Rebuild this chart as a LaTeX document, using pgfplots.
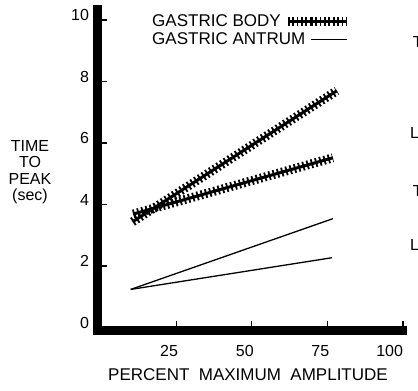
\documentclass[border=0pt]{standalone}
\usepackage{fontspec}
\setmainfont{Liberation Sans}
\usepackage{pgfplots}
\pgfplotsset{compat=1.18}
\pgfplotsset{
  body/.style={black, no markers, line width=3pt,
    postaction={draw, line width=9pt, dash pattern=on 1.8pt off 2.6pt},
    legend image code/.code={\draw[##1] (0pt,0pt) -- (36pt,0pt); \draw[##1,overlay] (-23pt,0pt) -- (0pt,0pt);}},
  antrum/.style={black, no markers, line width=1.3pt,
    legend image code/.code={\draw[##1] (0pt,0pt) -- (36pt,0pt);}},
}
\begin{document}
\begin{tikzpicture}
\begin{axis}[
  at={(0pt,0pt)}, anchor=south west,
  scale only axis, width=305.5pt, height=321.6pt,
  xmin=-1, xmax=100, ymin=-0.1, ymax=10.36,
  clip=false,
  axis x line*=bottom, axis y line*=left,
  axis line style={line width=8.5pt, line cap=rect},
  tick align=inside,
  major tick length=10pt,
  tick style={line width=1.2pt, black},
  xtick={25,50,75,100},
  xticklabels={25,50,75,{\kern14pt\makebox[0pt][r]{100}}},
  ytick={0,2,4,6,8,10},
  /pgf/number format/assume math mode=true,
  xticklabel style={font=\fontsize{16}{19}\selectfont, yshift=-11pt, xshift=-7pt},
  yticklabel style={font=\fontsize{16}{19}\selectfont, xshift=-5pt, yshift=5pt},
  xlabel={PERCENT\ \ MAXIMUM\ \ AMPLITUDE},
  xlabel style={at={(axis description cs:0.4926,-0.138)}, anchor=center, font=\fontsize{17}{20}\selectfont},
  ylabel={TIME\\TO\\PEAK\\(sec)},
  ylabel style={at={(axis description cs:-0.221,0.493)}, anchor=center, rotate=-90, align=center, font=\fontsize{16}{16.5}\selectfont},
  legend style={draw=none, fill=none, at={(axis cs:16.7,10.2)}, anchor=north west, inner sep=0pt, row sep=2pt, font=\fontsize{17}{20}\selectfont, nodes={inner sep=1pt}},
  legend plot pos=right,
  legend cell align=left,
]
\addplot[body] coordinates {(10.6,3.44) (78.1,7.70)};
\addlegendentry{GASTRIC BODY}
\addplot[body, forget plot] coordinates {(10.8,3.69) (76.8,5.52)};
\addplot[antrum] coordinates {(10,1.24) (76.8,3.54)};
\addlegendentry{GASTRIC ANTRUM}
\addplot[antrum, forget plot] coordinates {(10,1.24) (76.5,2.27)};
\node[anchor=west, inner sep=0pt, font=\fontsize{16}{19}\selectfont] at (axis description cs:1.032,0.897) {T};
\node[anchor=west, inner sep=0pt, font=\fontsize{16}{19}\selectfont] at (axis description cs:1.023,0.614) {L};
\node[anchor=west, inner sep=0pt, font=\fontsize{16}{19}\selectfont] at (axis description cs:1.032,0.434) {T};
\node[anchor=west, inner sep=0pt, font=\fontsize{16}{19}\selectfont] at (axis description cs:1.023,0.266) {L};
\end{axis}
\pgfresetboundingbox
\useasboundingbox (-97.5pt,-60.4pt) rectangle (320.5pt,330.6pt);
\end{tikzpicture}
\end{document}
